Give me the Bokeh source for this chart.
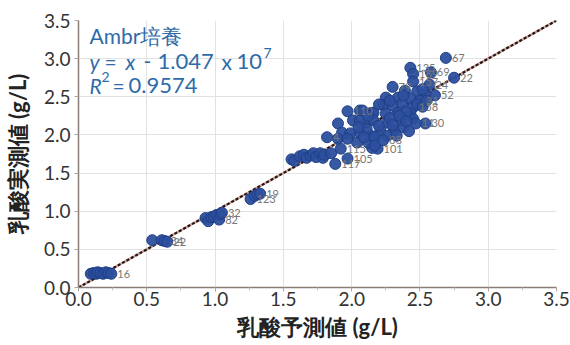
from bokeh.plotting import figure
from bokeh.models import ColumnDataSource, Label, FixedTicker, LabelSet, CustomJSTickFormatter
from bokeh.embed import file_html
from bokeh.resources import INLINE
from bokeh.core.properties import value

# ---- data (predicted vs measured lactate, g/L) ----
pred = [0.09, 0.11, 0.13, 0.14, 0.16, 0.18, 0.20, 0.22, 0.24,
        0.54, 0.61, 0.63, 0.65,
        0.93, 0.95, 0.97, 0.99, 1.01, 1.03, 1.04, 1.05,
        1.26, 1.29, 1.31, 1.33,
        1.56, 1.58, 1.62, 1.65, 1.67, 1.70, 1.72, 1.74, 1.77, 1.79, 1.80, 1.85,
        1.82, 1.92, 1.97, 1.88, 2.19, 2.15,
        1.90, 1.97, 2.06, 2.15, 2.01, 2.10, 1.93, 1.99, 2.06, 2.14,
        1.90, 1.97, 2.04, 2.12, 2.17,
        2.43, 2.45, 2.58, 2.75, 2.45, 2.30, 2.57, 2.39, 2.48, 2.61, 2.54,
        2.25, 2.34, 2.43, 2.50, 2.23, 2.30, 2.37, 2.45, 2.16, 2.25, 2.34, 2.43,
        2.08, 2.16, 2.26, 2.36, 2.45, 2.54, 2.47, 2.11, 2.21, 2.31, 2.38,
        2.09, 2.17, 2.26, 2.33, 2.17, 2.23, 2.06,
        2.40, 2.48, 2.52, 2.28, 2.20, 2.35, 2.40, 2.05, 2.12, 2.42, 2.30,
        2.55, 2.52, 2.38, 2.20, 2.28, 2.69]
meas = [0.18, 0.19, 0.18, 0.20, 0.19, 0.18, 0.20, 0.19, 0.18,
        0.62, 0.62, 0.61, 0.60,
        0.91, 0.87, 0.92, 0.93, 0.95, 0.89, 0.96, 0.98,
        1.16, 1.20, 1.22, 1.23,
        1.68, 1.66, 1.72, 1.74, 1.70, 1.73, 1.76, 1.71, 1.76, 1.70, 1.74, 1.76,
        1.97, 1.82, 1.69, 1.62, 1.82, 1.83,
        2.15, 2.31, 2.32, 2.29, 2.19, 2.16, 2.03, 2.02, 2.03, 1.99,
        1.95, 1.95, 1.90, 1.90, 1.95,
        2.88, 2.80, 2.82, 2.75, 2.70, 2.63, 2.66, 2.58, 2.57, 2.52, 2.53,
        2.49, 2.49, 2.48, 2.45, 2.39, 2.39, 2.41, 2.36, 2.29, 2.28, 2.29, 2.28,
        2.32, 2.19, 2.16, 2.19, 2.21, 2.15, 2.15, 2.08, 2.06, 2.06, 2.10,
        1.97, 1.97, 1.99, 1.99, 1.86, 1.93, 2.19,
        2.30, 2.40, 2.37, 2.22, 2.12, 2.25, 2.18, 2.10, 2.25, 2.05, 2.13,
        2.45, 2.60, 2.52, 2.40, 2.45, 3.01]
ids = ["", "", "", "", "", "", "", "", "16",
       "", "", "34", "22",
       "", "", "", "", "", "82", "", "32",
       "123", "", "", "19",
       "", "", "", "", "", "", "", "", "", "", "", "",
       "4", "115", "105", "117", "101", "",
       "", "110", "", "", "", "", "", "", "", "",
       "", "", "", "", "",
       "135", "169", "69", "22", "157", "79", "24", "", "", "52", "",
       "", "", "", "31", "", "", "", "158", "", "", "", "",
       "", "", "", "", "", "30", "11", "", "", "", "",
       "", "", "", "", "", "88", "",
       "", "", "", "", "", "", "", "", "", "", "",
       "", "", "", "", "", "67"]

line_x = [0.0, 3.5]          # identity line y = x
line_y = [0.0, 3.5]
ticks = [0.0, 0.5, 1.0, 1.5, 2.0, 2.5, 3.0, 3.5]
minor = [0.25, 0.75, 1.25, 1.75, 2.25, 2.75, 3.25]

src = ColumnDataSource(dict(x=pred, y=meas, id=ids))

p = figure(width=570, height=345, x_range=(0, 3.5), y_range=(0, 3.5),
           output_backend="svg", toolbar_location=None,
           min_border_left=78, min_border_right=14, min_border_top=20, min_border_bottom=58)
p.outline_line_color = None
p.background_fill_color = "white"

fmt = CustomJSTickFormatter(code="return tick.toFixed(1);")
for ax in (p.xaxis, p.yaxis):
    ax.ticker = FixedTicker(ticks=ticks, minor_ticks=minor)
    ax.formatter = fmt
    ax.major_label_text_font = "Lato"
    ax.major_label_text_font_size = "19px"
    ax.major_label_text_color = "#333333"
    ax.axis_line_color = "#8c7c78"
    ax.axis_line_width = 1.5
    ax.major_tick_line_color = "#b0a4a0"
    ax.major_tick_out = 4
    ax.major_tick_in = 0
    ax.minor_tick_line_color = "#c8c0bc"
    ax.minor_tick_out = 3
    ax.minor_tick_in = 0
    ax.axis_label_text_font = "Lato"
    ax.axis_label_text_font_style = "bold"
    ax.axis_label_text_font_size = "22px"
    ax.axis_label_text_color = "#222222"
p.yaxis.minor_tick_line_color = None
p.xaxis.major_label_standoff = 0
p.yaxis.major_label_standoff = 4
p.xaxis.axis_label = "乳酸予測値 (g/L)"
p.yaxis.axis_label = "乳酸実測値 (g/L)"
p.xaxis.axis_label_standoff = 4
p.yaxis.axis_label_standoff = 10

p.xgrid.ticker = FixedTicker(ticks=ticks)
p.ygrid.ticker = FixedTicker(ticks=ticks)
p.grid.grid_line_color = "#e2e2e2"
p.grid.grid_line_width = 1

# identity line
p.line(line_x, line_y, line_color="#c9a49c", line_width=2.4)
p.line(line_x, line_y, line_color="#2a1414", line_width=2.2, line_dash="3 2")

# points
p.scatter("x", "y", source=src, size=11, fill_color="#2c4f9e", line_color="#203f86",
          line_width=1, fill_alpha=0.95)
labels = LabelSet(x="x", y="y", text="id", source=src, x_offset=6, y_offset=0,
                  text_font=value("Lato"), text_font_size="11px",
                  text_color="#777777", text_baseline="middle")
p.add_layout(labels)

# annotation text
blue = "#2e6ba8"
fnt = "Lato"
AX = 0.0805
UP = 8
def lab(txt, y, xo=0, yo=0, size="21px", style="normal"):
    p.add_layout(Label(x=AX, y=y, x_offset=xo, y_offset=yo + UP, text=txt, text_font=fnt,
                       text_font_size=size, text_font_style=style, text_color=blue,
                       text_baseline="alphabetic"))

lab("Ambr培養", 3.198)
lab("y", 2.857, style="italic")
lab("=", 2.857, xo=15)
lab("x", 2.857, xo=36, style="italic")
lab("-", 2.857, xo=54)
lab("1.047", 2.857, xo=68, size="22px")
lab("x", 2.857, xo=132)
lab("10", 2.857, xo=147, size="22px")
lab("7", 2.857, xo=174, yo=9, size="14px")
lab("R", 2.543, style="italic")
lab("2", 2.543, xo=12, yo=9, size="14px")
lab("=", 2.543, xo=23)
lab("0.9574", 2.543, xo=39, size="22px")

open("out.html", "w").write(file_html(p, INLINE))
